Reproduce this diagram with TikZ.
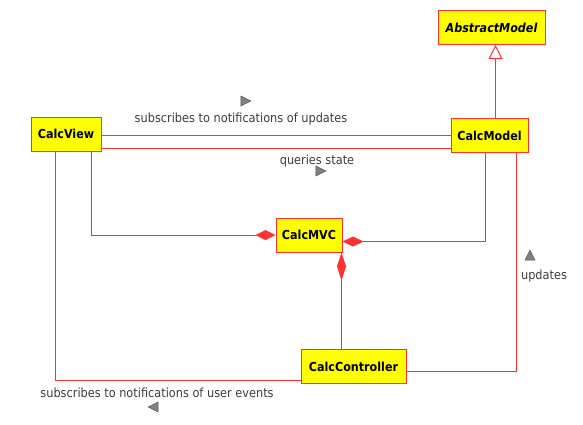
\documentclass[tikz,border=0pt]{standalone}
\usepackage{fontspec}
\setmainfont{DejaVu Sans Condensed}
\usepackage{tikz}
\usetikzlibrary{calc, arrows.meta, shapes.geometric}
\definecolor{umlred}{RGB}{255,50,50}
\definecolor{umlyellow}{RGB}{255,255,0}
\definecolor{labelgray}{RGB}{60,60,60}
\tikzset{>=latex}

\begin{document}
\begin{tikzpicture}
[x=1pt, y=-1pt,
 cls/.style={draw=umlred, fill=umlyellow, line width=1pt, minimum height=34pt,
   inner xsep=3pt, font=\fontsize{12.4}{14}\selectfont\bfseries},
 assoc/.style={draw=umlred, line width=1pt},
 lbl/.style={text=labelgray, inner sep=0pt, font=\fontsize{12.6}{14}\selectfont},
 dirmark/.style={isosceles triangle, isosceles triangle stretches, draw=black!70,
   fill=gray, inner sep=0pt, minimum width=10pt, minimum height=10pt, line width=0.5pt}]
\useasboundingbox (0,0) rectangle (583,424);

% classes
\node[cls, minimum width=107pt, font=\fontsize{12.4}{14}\selectfont\bfseries\itshape] (abstract) at (491.5,27.5) {AbstractModel};
\node[cls, minimum width=70pt] (view) at (66,134) {CalcView};
\node[cls, minimum width=77pt] (model) at (489.5,135.5) {CalcModel};
\node[cls, minimum width=66pt] (mvc) at (309,235) {CalcMVC};
\node[cls, minimum width=105pt] (ctrl) at (353.5,366.5) {CalcController};

% generalization
\draw[assoc, -{Triangle[open, length=14pt, width=14pt, fill=white]}]
  (model.north -| 495.5,0) -- (abstract.south -| 495.5,0);

% view <-> model
\draw[assoc] (view.east |- 0,135.5) -- (model.west |- 0,135.5);
\draw[assoc] (view.east |- 0,148.5) -- (model.west |- 0,148.5);
\node[lbl] (subupd) at (241,119) {subscribes to notifications of updates};
\node[dirmark] (subupdm) at (244,101) {};
\node[lbl] (query) at (317,161) {queries state};
\node[dirmark] (querym) at (319,171) {};

% composition
\draw[assoc, {Diamond[length=20pt, width=10pt]}-] (mvc.west) -| (view.south -| 91.5,0);
\draw[assoc, {Diamond[length=21pt, width=10pt]}-] (mvc.east |- 0,241.5) -| (model.south -| 485.5,0);
\draw[assoc, {Diamond[length=28pt, width=9pt]}-] (mvc.south -| 341.5,0) -- (ctrl.north -| 341.5,0);

% controller
\draw[assoc] (ctrl.west |- 0,380.5) -| (view.south -| 55.5,0);
\node[lbl] (subusr) at (157,393) {subscribes to notifications of user events};
\node[dirmark, shape border rotate=180] (subusrm) at (155,407) {};
\draw[assoc] (ctrl.east |- 0,371.5) -| (model.south -| 516.5,0);
\node[lbl] (upd) at (544,276) {updates};
\node[dirmark, shape border rotate=90] (updm) at (530,257) {};
\end{tikzpicture}
\end{document}
